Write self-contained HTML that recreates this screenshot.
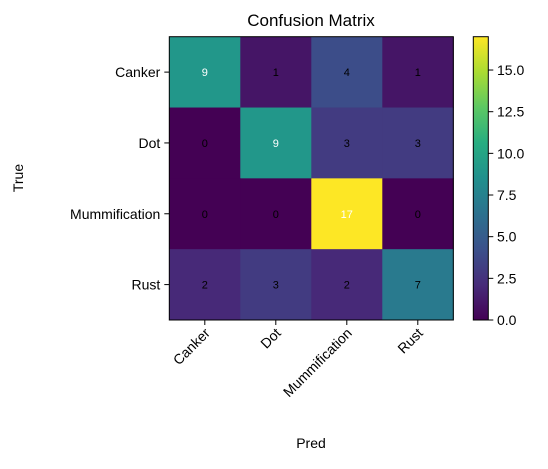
<!DOCTYPE html>
<html><head><meta charset="utf-8"><style>
body{margin:0;background:#fff;}
svg text{font-family:"Liberation Sans","DejaVu Sans",sans-serif;}
</style></head><body>
<svg id="chart" width="548" height="464" xmlns="http://www.w3.org/2000/svg">
<rect width="548" height="464" fill="#fff"/>
<text x="311" y="26" font-size="17" text-anchor="middle">Confusion Matrix</text>
<text x="0" y="0" font-size="14" transform="translate(23,178) rotate(-90)" text-anchor="middle">True</text>
<text x="311" y="448" font-size="14" text-anchor="middle">Pred</text>
<g id="cells"></g>
<defs><linearGradient id="vir" x1="0" y1="1" x2="0" y2="0"></linearGradient></defs>
<rect x="473.3" y="36.7" width="15" height="283.3" fill="url(#vir)"/>
<rect x="473.3" y="36.7" width="15" height="283.3" fill="none" stroke="#000" stroke-width="1"/>
<g id="cbticks"></g>
<rect x="169.3" y="36.7" width="284" height="283.3" fill="none" stroke="#000" stroke-width="1"/>
</svg>
<script>
const labels=["Canker","Dot","Mummification","Rust"];
const row0=[9,1,4,1];
const row1=[0,9,3,3];
const row2=[0,0,17,0];
const row3=[2,3,2,7];
const matrix=[row0,row1,row2,row3];
const cbTicks=[0,2.5,5,7.5,10,12.5,15];
const NS="http://www.w3.org/2000/svg";
const L=169.3,T=36.7,W=284,H=283.3;
const vmax=17,vmin=0;
const stops=[[0,[68,1,84]],[0.125,[71,44,122]],[0.25,[59,81,139]],[0.375,[44,113,142]],[0.5,[33,144,141]],[0.625,[39,173,129]],[0.75,[92,200,99]],[0.875,[170,220,50]],[1,[253,231,37]]];
function vir(t){t=Math.max(0,Math.min(1,t));for(let i=1;i<stops.length;i++){if(t<=stops[i][0]){const a=stops[i-1],b=stops[i];const f=(t-a[0])/(b[0]-a[0]);const c=a[1].map((v,k)=>Math.round(v+(b[1][k]-v)*f));return `rgb(${c})`;}}return "rgb(253,231,37)";}
const n=labels.length,cw=W/n,ch=H/n;
const xs=i=>L+cw*(i+0.5), ys=i=>T+ch*(i+0.5);
const cb=v=>T+H-(v-vmin)/(vmax-vmin)*H;
const g=document.getElementById('cells');
function el(tag,attrs,parent){const e=document.createElementNS(NS,tag);for(const k in attrs)e.setAttribute(k,attrs[k]);(parent||g).appendChild(e);return e;}
matrix.forEach((row,r)=>row.forEach((v,c)=>{
 const rc=el('rect',{x:L+cw*c,y:T+ch*r,width:cw+0.5,height:ch+0.5,fill:vir((v-vmin)/(vmax-vmin))});
 
 
 const t=el('text',{x:xs(c),y:ys(r)+4,'font-size':11,'text-anchor':'middle',fill:v>vmax/2?'#fff':'#000'});
 t.textContent=v;
 
 
}));
labels.forEach((lab,i)=>{
 el('line',{x1:L-5,x2:L,y1:ys(i),y2:ys(i),stroke:'#000'});
 const ty=el('text',{x:L-9,y:ys(i)+5,'font-size':14,'text-anchor':'end'});
 ty.textContent=lab;
 
 
 el('line',{x1:xs(i),x2:xs(i),y1:T+H,y2:T+H+5,stroke:'#000'});
 const tx=el('text',{x:0,y:0,'font-size':14,'text-anchor':'end',transform:`translate(${xs(i)+6},${T+H+14}) rotate(-45)`});
 tx.textContent=lab;
 
 
});
const grad=document.getElementById('vir');
stops.forEach(s=>{const st=document.createElementNS(NS,'stop');st.setAttribute('offset',s[0]);st.setAttribute('stop-color',`rgb(${s[1]})`);grad.appendChild(st);});
const cbg=document.getElementById('cbticks');
cbTicks.forEach(v=>{
 el('line',{x1:488.3,x2:493.3,y1:cb(v),y2:cb(v),stroke:'#000'},cbg);
 const t=el('text',{x:497,y:cb(v)+5,'font-size':14},cbg);
 t.textContent=v.toFixed(1);
 
 
});
</script>
</body></html>
